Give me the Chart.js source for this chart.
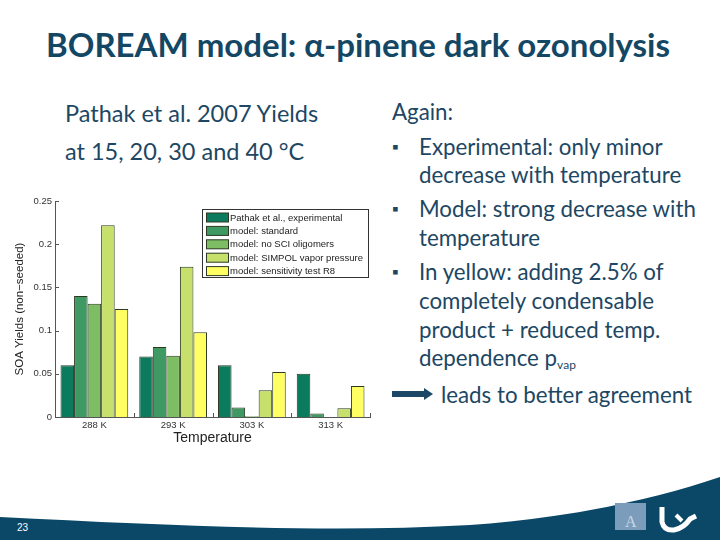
<!DOCTYPE html>
<html>
  <head>
    <meta charset="utf-8" />
    <script src="https://cdn.jsdelivr.net/npm/chart.js"></script>
    <title>BOREAM model</title>
    <style>
      body { margin: 0; }
      .slide { position: relative; width: 720px; height: 540px; overflow: hidden; background: #fff; font-family: Lato, "Open Sans", sans-serif; color: #1d4763; }
      .title { position: absolute; left: 0; top: 24px; width: 716px; text-align: center; font-weight: bold; font-size: 33px; color: #134764; white-space: nowrap; }
      .left { position: absolute; left: 65px; top: 94px; font-size: 23.5px; line-height: 38px; }
      .right { position: absolute; left: 392px; top: 97px; width: 330px; font-size: 22.3px; white-space: nowrap; }
      .right p { margin: 0; }
      .bul { position: relative; padding-left: 27px; line-height: 28.7px; margin-top: 5.5px !important; }
      .bul::before { content: "\25AA"; position: absolute; left: 0; top: 0; font-size: 17px; }
      sub { font-size: 12px; vertical-align: -3px; }
      .arrowline { position: relative; padding-left: 49px; line-height: 28px; margin-top: 1px !important; }
      .chartbox { position: absolute; left: 10px; top: 190px; width: 380px; height: 262px; }
      .pg { position: absolute; left: 17px; top: 522px; font-size: 10px; color: #fff; font-family: "Liberation Sans Narrow", Arial, sans-serif; }
    </style>
  </head>
  <body>
    <div class="slide">
      <svg width="720" height="540" style="position:absolute;left:0;top:0">
        <path d="M0,517 C180,526 330,533 470,525 C560,519 650,501 720,477 L720,540 L0,540 Z" fill="#0b4868" />
        <rect x="615" y="503" width="31" height="27" fill="#7c9cbb" />
        <text x="625" y="527" font-size="16" fill="#c9d8e6" font-family="Liberation Serif">A</text>
        <path d="M662,507 L662,522 Q664,531 674,530 Q684,528 690,519 L696,516" stroke="#fff" stroke-width="5" fill="none" />
        <path d="M676,515 L682,521" stroke="#fff" stroke-width="4" />
        <!-- arrow -->
        <path d="M392,394 L426,394" stroke="#1a4866" stroke-width="6" />
        <path d="M424,388 L433,394 L424,400 Z" fill="#1a4866" />
      </svg>
      <div class="title">BOREAM model: α-pinene dark ozonolysis</div>
      <div class="left">Pathak et al. 2007 Yields<br />at 15, 20, 30 and 40 °C</div>
      <div class="right">
        <p style="line-height:30px">Again:</p>
        <p class="bul">Experimental: only minor<br />decrease with temperature</p>
        <p class="bul">Model: strong decrease with<br />temperature</p>
        <p class="bul">In yellow: adding 2.5% of<br />completely condensable<br />product + reduced temp.<br />dependence p<sub>vap</sub></p>
        <p class="arrowline">leads to better agreement</p>
      </div>
      <div class="chartbox"><canvas id="yields"></canvas></div>
      <div class="pg">23</div>
    </div>

    <script>
      // categories (temperature)
      var categories = ["288 K", "293 K", "303 K", "313 K"];
      var seriesNames = [
        "Pathak et al., experimental",
        "model: standard",
        "model: no SCI oligomers",
        "model: SIMPOL vapor pressure",
        "model: sensitivity test R8",
      ];
      // SOA yields
      var experimental = [0.06, 0.07, 0.06, 0.05];
      var standard = [0.14, 0.081, 0.011, 0.004];
      var noSCI = [0.131, 0.071, 0.001, 0];
      var simpol = [0.222, 0.174, 0.031, 0.01];
      var sensR8 = [0.125, 0.098, 0.052, 0.036];
      var yTicks = [0, 0.05, 0.1, 0.15, 0.2, 0.25];

      var colors = ["#0b7a5d", "#3e9a62", "#7dbd63", "#c7e06c", "#ffff63"];
      var values = [experimental, standard, noSCI, simpol, sensR8];

      var datasets = values.map(function (v, i) {
        return {
          label: seriesNames[i],
          data: v,
          backgroundColor: colors[i],
          borderColor: "#2d3a22",
          borderWidth: 1,
          categoryPercentage: 0.86,
          barPercentage: 1.0,
        };
      });

      // inward tick marks + boxed legend, matlab style
      var matlabBits = {
        id: "matlabBits",
        afterDraw: function (chart) {
          var ctx = chart.ctx;
          var area = chart.chartArea;
          var ys = chart.scales.y;
          var xs = chart.scales.x;
          ctx.save();
          ctx.strokeStyle = "#555";
          ctx.lineWidth = 1;
          ctx.beginPath();
          yTicks.forEach(function (t) {
            var py = Math.round(ys.getPixelForValue(t)) + 0.5;
            ctx.moveTo(area.left, py);
            ctx.lineTo(area.left + 4, py);
          });
          var w = (xs.getPixelForTick(1) - xs.getPixelForTick(0)) / 2;
          for (var i = 0; i < categories.length; i++) {
            var px = Math.round(xs.getPixelForTick(i) + w) + 0.5;
            ctx.moveTo(px, area.bottom);
            ctx.lineTo(px, area.bottom - 4);
          }
          ctx.stroke();

          // legend
          var lx = 192.5, ly = 19.5, lw = 166, lh = 68;
          ctx.fillStyle = "#fff";
          ctx.fillRect(lx, ly, lw, lh);
          ctx.strokeStyle = "#333";
          ctx.strokeRect(lx, ly, lw, lh);
          ctx.font = "9.5px 'Liberation Sans', Arial";
          ctx.textBaseline = "middle";
          seriesNames.forEach(function (name, i) {
            var cy = 27.5 + i * 13.4;
            ctx.fillStyle = colors[i];
            ctx.fillRect(196, cy - 4.5, 22, 9);
            ctx.strokeStyle = "#2d3a22";
            ctx.strokeRect(196.5, cy - 4.5, 22, 9);
            ctx.fillStyle = "#222";
            ctx.fillText(name, 220, cy + 0.5);
          });
          ctx.restore();
        },
      };

      var canvas = document.getElementById("yields");
      new Chart(canvas.getContext("2d"), {
        type: "bar",
        data: { labels: categories, datasets: datasets },
        plugins: [matlabBits],
        options: {
          responsive: true,
          maintainAspectRatio: false,
          animation: false,
          layout: { padding: { top: 11, right: 20, left: 0, bottom: 0 } },
          plugins: { legend: { display: false }, tooltip: { enabled: false } },
          scales: {
            x: {
              grid: { display: false, drawTicks: false },
              border: { color: "#555" },
              ticks: { color: "#333", font: { family: "'Liberation Sans', Arial", size: 9.5 }, padding: 3 },
              title: { display: true, text: "Temperature", color: "#222", font: { family: "'Liberation Sans', Arial", size: 14 }, padding: { top: 0, bottom: 5 } },
              afterFit: function (s) { s.height = 35; },
            },
            y: {
              min: 0,
              max: 0.25,
              afterBuildTicks: function (s) {
                s.ticks = yTicks.map(function (v) { return { value: v }; });
              },
              grid: { display: false, drawTicks: false },
              border: { color: "#555" },
              ticks: {
                color: "#333",
                font: { family: "'Liberation Sans', Arial", size: 9.5 },
                padding: 3,
                callback: function (v) { return String(v); },
              },
              title: { display: true, text: "SOA Yields (non\u2212seeded)", color: "#222", font: { family: "'Liberation Sans', Arial", size: 11.5 }, padding: 3 },
              afterFit: function (s) { s.width = 45; },
            },
          },
        },
      });
    </script>
  </body>
</html>
